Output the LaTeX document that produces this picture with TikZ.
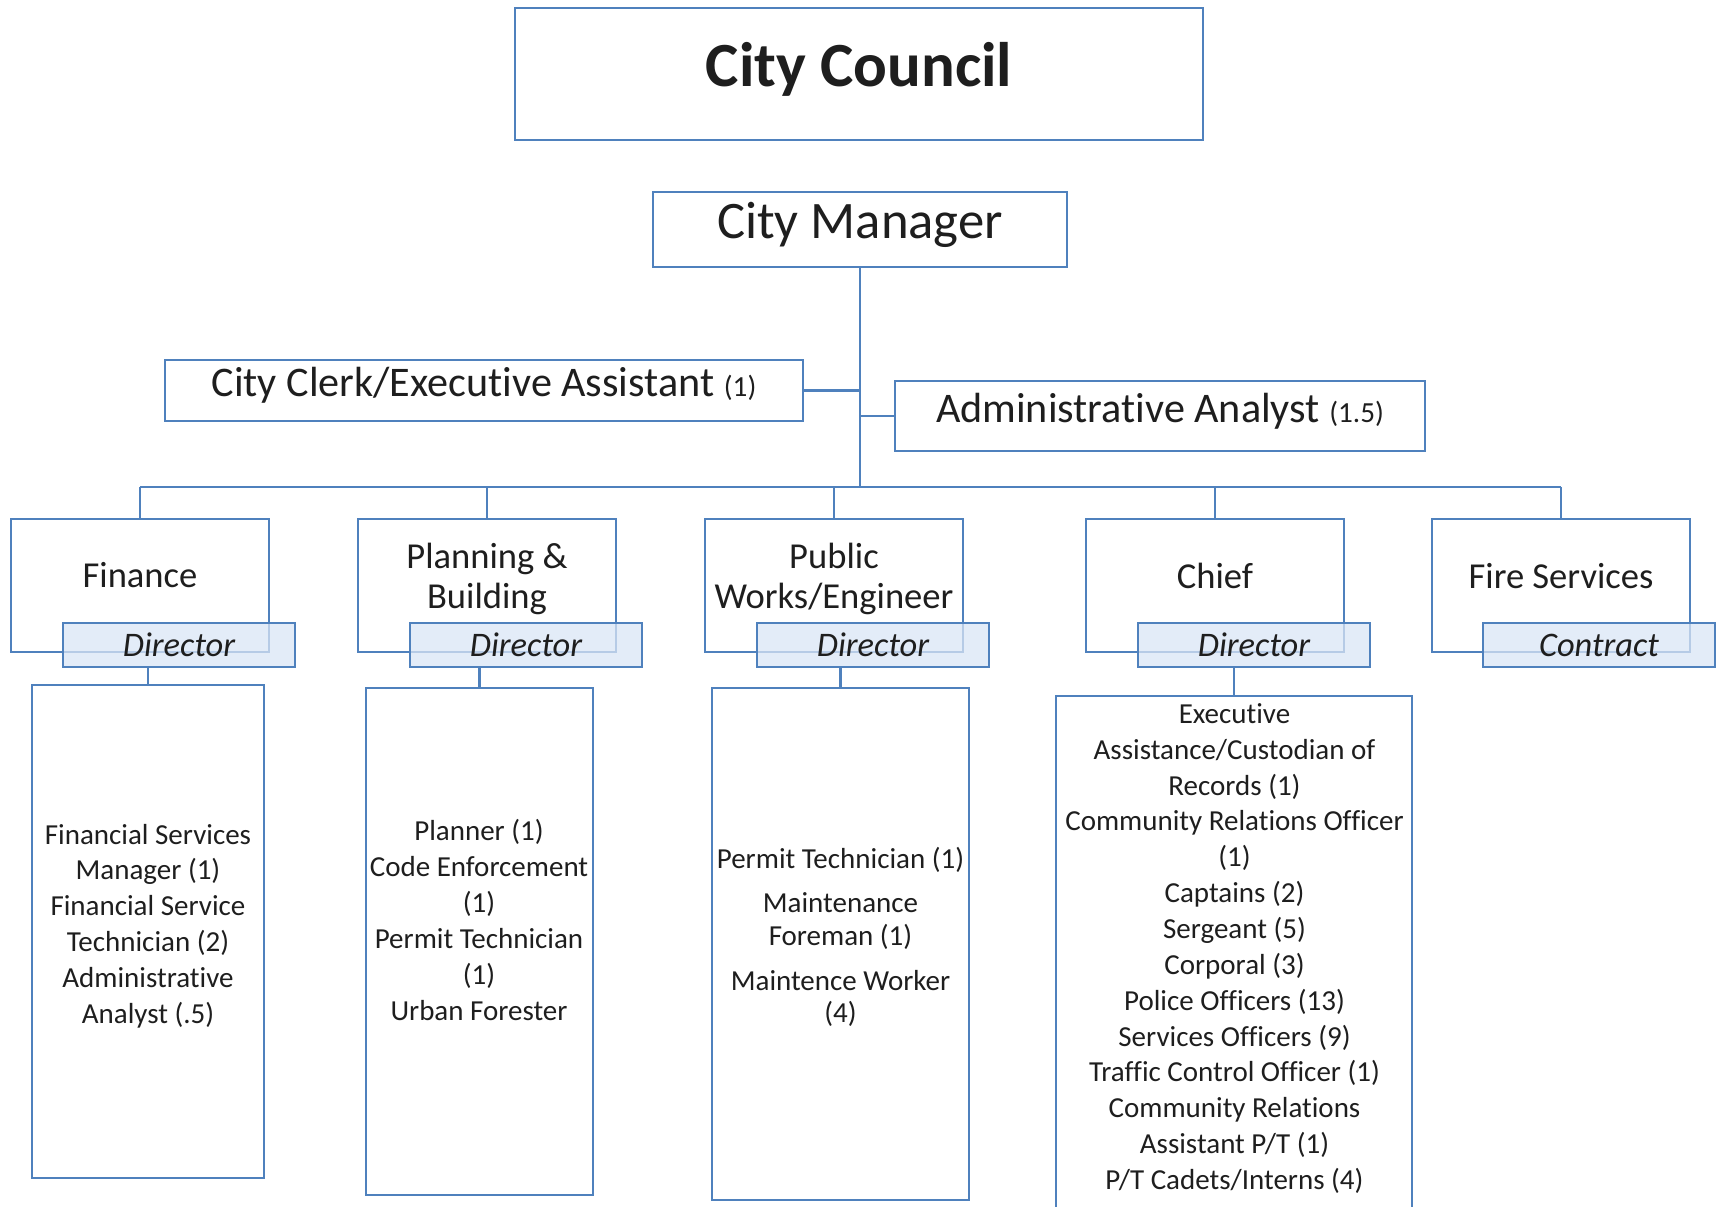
\documentclass[tikz,border=0pt]{standalone}
\usepackage{fontspec}
\setmainfont{Carlito}[Ligatures=NoCommon]
\usetikzlibrary{positioning}
\definecolor{linec}{HTML}{4F81BD}
\definecolor{dirc}{HTML}{D9E5F5}
\definecolor{textc}{HTML}{1E1E1E}

\begin{document}
\begin{tikzpicture}[
  box/.style={draw=linec, line width=0.6pt, inner sep=0pt},
  dirbox/.style={box, fill=dirc, fill opacity=0.75, minimum width=2.32cm, minimum height=0.44cm},
  deptbox/.style={box, minimum width=2.58cm, minimum height=1.33cm},
  wire/.style={linec, line width=0.6pt},
  deptname/.style={text=textc, inner sep=0pt, align=center, font=\fontsize{10.4}{11.6}\selectfont},
  dirname/.style={text=textc, inner sep=0pt, anchor=base, font=\fontsize{9.8}{12}\selectfont\itshape},
  staff/.style={text=textc, inner sep=0pt, align=center, font=\fontsize{8.25}{10.2}\selectfont}]
  \useasboundingbox (0,0) rectangle (17.16,-12.07);

  \node[box, minimum width=6.88cm, minimum height=1.32cm] (council) at (8.59,-0.74) {};
  \node[text=textc, anchor=base, inner sep=0pt, font=\fontsize{17.9}{21}\selectfont\bfseries] (councilt) at (8.59,-0.865) {City Council};
  \node[box, minimum width=4.14cm, minimum height=0.75cm] (manager) at (8.60,-2.295) {};
  \node[text=textc, anchor=base, inner sep=0pt, font=\fontsize{15}{18}\selectfont] (managert) at (8.60,-2.386) {City Manager};
  \node[box, minimum width=6.38cm, minimum height=0.61cm] (clerk) at (4.84,-3.905) {};
  \node[text=textc, anchor=base, inner sep=0pt, font=\fontsize{12}{14}\selectfont] (clerkt) at (4.84,-3.97)
    {City Clerk/Executive Assistant {\fontsize{8.3}{10}\selectfont(1)}};
  \node[box, minimum width=5.30cm, minimum height=0.70cm] (analyst) at (11.60,-4.16) {};
  \node[text=textc, anchor=base, inner sep=0pt, font=\fontsize{12}{14}\selectfont] (analystt) at (11.60,-4.225)
    {Administrative Analyst {\fontsize{8.3}{10}\selectfont(1.5)}};

  \node[deptbox] (fin) at (1.40,-5.855) {};
  \node[deptbox] (plan) at (4.87,-5.855) {};
  \node[deptbox] (pw) at (8.34,-5.855) {};
  \node[deptbox] (chief) at (12.15,-5.855) {};
  \node[deptbox] (fire) at (15.61,-5.855) {};
  \node[deptname, anchor=base] (fint) at (1.40,-5.88) {Finance};
  \node[deptname] (plant) at (4.87,-5.79) {Planning \&\\Building};
  \node[deptname] (pwt) at (8.34,-5.79) {Public\\Works/Engineer};
  \node[deptname, anchor=base] (chieft) at (12.15,-5.89) {Chief};
  \node[deptname, anchor=base] (firet) at (15.61,-5.89) {Fire Services};

  \node[dirbox] (findir) at (1.79,-6.45) {};
  \node[dirbox] (plandir) at (5.26,-6.45) {};
  \node[dirbox] (pwdir) at (8.73,-6.45) {};
  \node[dirbox] (chiefdir) at (12.54,-6.45) {};
  \node[dirbox] (firedir) at (15.99,-6.45) {};
  \node[dirname] (findirt) at (1.79,-6.565) {Director};
  \node[dirname] (plandirt) at (5.26,-6.565) {Director};
  \node[dirname] (pwdirt) at (8.73,-6.565) {Director};
  \node[dirname] (chiefdirt) at (12.54,-6.565) {Director};
  \node[dirname] (firedirt) at (15.99,-6.565) {Contract};

  \node[box, minimum width=2.32cm, minimum height=4.93cm] (finstaff) at (1.48,-9.315) {};
  \node[box, minimum width=2.27cm, minimum height=5.07cm] (planstaff) at (4.795,-9.415) {};
  \node[box, minimum width=2.57cm, minimum height=5.12cm] (pwstaff) at (8.405,-9.44) {};
  \node[box, minimum width=3.56cm, minimum height=5.19cm] (chiefstaff) at (12.34,-9.555) {};
  \node[staff] (finstafft) at (1.48,-9.26)
    {Financial Services\\Manager (1)\\Financial Service\\Technician (2)\\Administrative\\Analyst (.5)};
  \node[staff] (planstafft) at (4.79,-9.20)
    {Planner (1)\\Code Enforcement\\(1)\\Permit Technician\\(1)\\Urban Forester};
  \node[staff, font=\fontsize{8.25}{9.3}\selectfont] (pwstafft) at (8.405,-9.37)
    {Permit Technician (1)\\[3.4pt]Maintenance\\Foreman (1)\\[3.4pt]Maintence Worker\\(4)};
  \node[staff] (chiefstafft) at (12.345,-9.485)
    {Executive\\Assistance/Custodian of\\Records (1)\\Community Relations Officer\\(1)\\Captains (2)\\Sergeant (5)\\Corporal (3)\\Police Officers (13)\\Services Officers (9)\\Traffic Control Officer (1)\\Community Relations\\Assistant P/T (1)\\P/T Cadets/Interns (4)};

  \coordinate (bus) at (8.60,-4.87);
  \draw[wire] (manager.south) -- (manager.south |- bus);
  \draw[wire] (clerk.east) -- (clerk.east -| manager.south);
  \draw[wire] (analyst.west) -- (analyst.west -| manager.south);
  \draw[wire] (fin.north |- bus) -- (fire.north |- bus);
  \draw[wire] (fin.north |- bus) -- (fin.north);
  \draw[wire] (plan.north |- bus) -- (plan.north);
  \draw[wire] (pw.north |- bus) -- (pw.north);
  \draw[wire] (chief.north |- bus) -- (chief.north);
  \draw[wire] (fire.north |- bus) -- (fire.north);
  \draw[wire] (finstaff.north |- findir.south) -- (finstaff.north);
  \draw[wire] (planstaff.north |- plandir.south) -- (planstaff.north);
  \draw[wire] (pwstaff.north |- pwdir.south) -- (pwstaff.north);
  \draw[wire] (chiefstaff.north |- chiefdir.south) -- (chiefstaff.north);
\end{tikzpicture}
\end{document}
